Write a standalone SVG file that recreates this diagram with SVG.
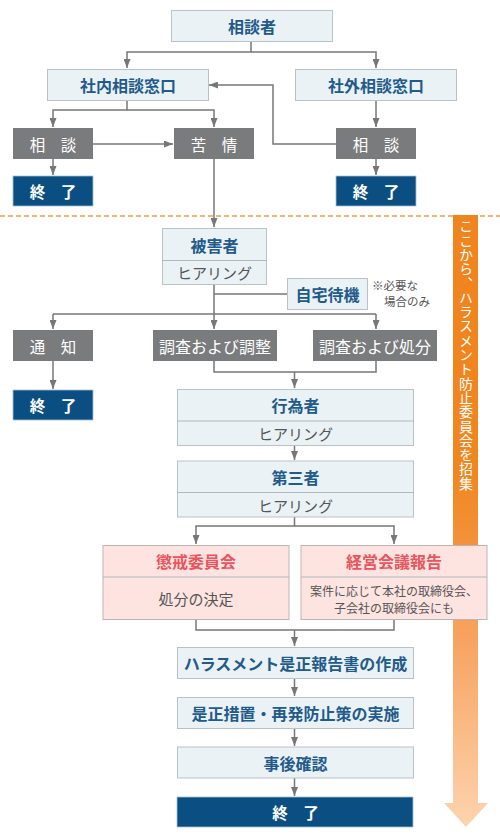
<svg xmlns="http://www.w3.org/2000/svg" width="500" height="836" viewBox="0 0 500 836">
<defs>
<marker id="ah" viewBox="0 0 9 7" refX="9" refY="3.5" markerWidth="9" markerHeight="7" markerUnits="userSpaceOnUse" orient="auto"><path d="M0,0 L9,3.5 L0,7 z" fill="#777"/></marker>
<linearGradient id="og" gradientUnits="userSpaceOnUse" x1="0" y1="215" x2="0" y2="827">
<stop offset="0" stop-color="#f0841e"/>
<stop offset="0.42" stop-color="#f0861f"/>
<stop offset="0.7" stop-color="#f7a462"/>
<stop offset="1" stop-color="#fdd4ae"/>
</linearGradient>
<style>
text{font-family:"Noto Sans CJK JP","Noto Sans",sans-serif;text-anchor:middle;dominant-baseline:central}
.lb{fill:#eaf2f5;stroke:#b8c2c7;stroke-width:1}
.gr{fill:#7a7b7d}
.dk{fill:#0b4f82;stroke:#9fc0d8;stroke-width:0.8}
.pk{fill:#fde4e1;stroke:#bdb5b4;stroke-width:1}
.dv{stroke:#b0b8bc;stroke-width:1}
.bt{fill:#225a8b;font-size:16px;font-weight:700}
.rt{fill:#e9545d;font-size:16px;font-weight:700}
.wt{fill:#fff;font-size:15.5px}
.wb{fill:#fff;font-size:15.5px;font-weight:700}
.ht{fill:#555;font-size:15px}
.st{fill:#555;font-size:12px}
.nt{fill:#555;font-size:11.5px;text-anchor:start}
.cn{fill:none;stroke:#777;stroke-width:1.5}
.ar{marker-end:url(#ah)}
</style>
</defs>
<rect width="500" height="836" fill="#fff"/>
<line x1="0" y1="216" x2="500" y2="216" stroke="#f39a4a" stroke-width="1.5" stroke-dasharray="5 3"/>
<g id="orange-arrow">
<polygon points="453,215 478,215 478,803 488,803 466,827 444,803 453,803" fill="url(#og)"/>
<text x="466" y="219" style="writing-mode:vertical-rl;text-anchor:start;dominant-baseline:central;letter-spacing:0.3px" fill="#fff" font-size="14">ここから、ハラスメント防止委員会を招集</text>
</g>
<g id="connectors">
<path class="cn ar" d="M251,41 V52 H127 V68"/>
<path class="cn ar" d="M251,52 H376 V68"/>
<path class="cn ar" d="M127,100 V110 H53 V127"/>
<path class="cn ar" d="M127,110 H214 V127"/>
<path class="cn ar" d="M93,144 H173"/>
<path class="cn ar" d="M53,159 V175"/>
<path class="cn ar" d="M376,100 V127"/>
<path class="cn ar" d="M376,159 V175"/>
<path class="cn ar" d="M336,144 H273 V85 H209"/>
<path class="cn ar" d="M214,159 V227"/>
<path class="cn ar" d="M214,284 V329"/>
<path class="cn" d="M214,294 H287"/>
<path class="cn ar" d="M53,314 V329"/>
<path class="cn" d="M53,314 H376"/>
<path class="cn ar" d="M376,314 V329"/>
<path class="cn ar" d="M53,361 V389"/>
<path class="cn" d="M214,361 V372 H376 V361"/>
<path class="cn ar" d="M294.5,372 V388"/>
<path class="cn ar" d="M294.5,445 V460"/>
<path class="cn ar" d="M294.5,517 V526 H196 V544"/>
<path class="cn ar" d="M294.5,526 H394 V544"/>
<path class="cn" d="M196,619 V630 H394 V619"/>
<path class="cn ar" d="M294.5,630 V646"/>
<path class="cn ar" d="M294.5,678 V696"/>
<path class="cn ar" d="M294.5,728 V746"/>
<path class="cn ar" d="M294.5,778 V796"/>
</g>
<g id="n-soudansha"><rect class="lb" x="171.5" y="10.5" width="161" height="31"/><text class="bt" x="252" y="26">相談者</text></g>
<g id="n-shanai"><rect class="lb" x="47.5" y="69.5" width="161" height="31"/><text class="bt" x="128" y="85">社内相談窓口</text></g>
<g id="n-shagai"><rect class="lb" x="295.5" y="69.5" width="161" height="31"/><text class="bt" x="376" y="85">社外相談窓口</text></g>
<g id="n-soudan-l"><rect class="gr" x="13" y="128" width="80" height="31"/><text class="wt" x="53" y="143.5">相　談</text></g>
<g id="n-kujou"><rect class="gr" x="174" y="128" width="80" height="31"/><text class="wt" x="214" y="143.5">苦　情</text></g>
<g id="n-soudan-r"><rect class="gr" x="336" y="128" width="80" height="31"/><text class="wt" x="376" y="143.5">相　談</text></g>
<g id="n-end-l"><rect class="dk" x="13" y="176" width="80" height="30"/><text class="wb" x="53" y="191">終　了</text></g>
<g id="n-end-r"><rect class="dk" x="336" y="176" width="80" height="30"/><text class="wb" x="376" y="191">終　了</text></g>
<g id="n-higaisha"><rect class="lb" x="162.5" y="228.5" width="104" height="56"/><line class="dv" x1="162.5" y1="260.5" x2="266.5" y2="260.5"/><text class="bt" x="214.5" y="244.5">被害者</text><text class="ht" x="214.5" y="272.5">ヒアリング</text></g>
<g id="n-jitaku"><rect class="lb" x="287.5" y="278.5" width="80" height="31"/><text class="bt" x="327.5" y="294">自宅待機</text></g>
<g id="note"><text class="nt" x="372" y="285">※必要な</text><text class="nt" x="384" y="301">場合のみ</text></g>
<g id="n-tsuchi"><rect class="gr" x="13" y="330" width="80" height="31"/><text class="wt" x="53" y="345.5">通　知</text></g>
<g id="n-chousei"><rect class="gr" x="153" y="330" width="124" height="31"/><text class="wt" x="215" y="345.5" style="font-size:16px">調査および調整</text></g>
<g id="n-shobun"><rect class="gr" x="313" y="330" width="124" height="31"/><text class="wt" x="375" y="345.5" style="font-size:16px">調査および処分</text></g>
<g id="n-end-tsuchi"><rect class="dk" x="13" y="390" width="80" height="30"/><text class="wb" x="53" y="405">終　了</text></g>
<g id="n-koisha"><rect class="lb" x="177.5" y="389.5" width="236" height="56"/><line class="dv" x1="177.5" y1="421" x2="413.5" y2="421"/><text class="bt" x="295.5" y="405">行為者</text><text class="ht" x="295.5" y="433.5">ヒアリング</text></g>
<g id="n-daisansha"><rect class="lb" x="177.5" y="461" width="236" height="56"/><line class="dv" x1="177.5" y1="492.5" x2="413.5" y2="492.5"/><text class="bt" x="295.5" y="476.5">第三者</text><text class="ht" x="295.5" y="505">ヒアリング</text></g>
<g id="n-choukai"><rect class="pk" x="103" y="545.5" width="186" height="74"/><line class="dv" x1="103" y1="577" x2="289" y2="577"/><text class="rt" x="196" y="561">懲戒委員会</text><text class="ht" x="196" y="598">処分の決定</text></g>
<g id="n-keiei"><rect class="pk" x="301" y="545.5" width="186" height="74"/><line class="dv" x1="301" y1="577" x2="487" y2="577"/><text class="rt" x="394" y="561">経営会議報告</text><text class="st" x="394" y="590.5">案件に応じて本社の取締役会、</text><text class="st" x="394" y="607">子会社の取締役会にも</text></g>
<g id="n-houkokusho"><rect class="lb" x="177.5" y="647.5" width="236" height="31"/><text class="bt" x="295.5" y="663">ハラスメント是正報告書の作成</text></g>
<g id="n-zesei"><rect class="lb" x="177.5" y="697.5" width="236" height="31"/><text class="bt" x="295.5" y="713">是正措置・再発防止策の実施</text></g>
<g id="n-jigo"><rect class="lb" x="177.5" y="747" width="236" height="31"/><text class="bt" x="295.5" y="762.5">事後確認</text></g>
<g id="n-end-final"><rect class="dk" x="177" y="797" width="236" height="30"/><text class="wb" x="295.5" y="812">終　了</text></g>
</svg>
